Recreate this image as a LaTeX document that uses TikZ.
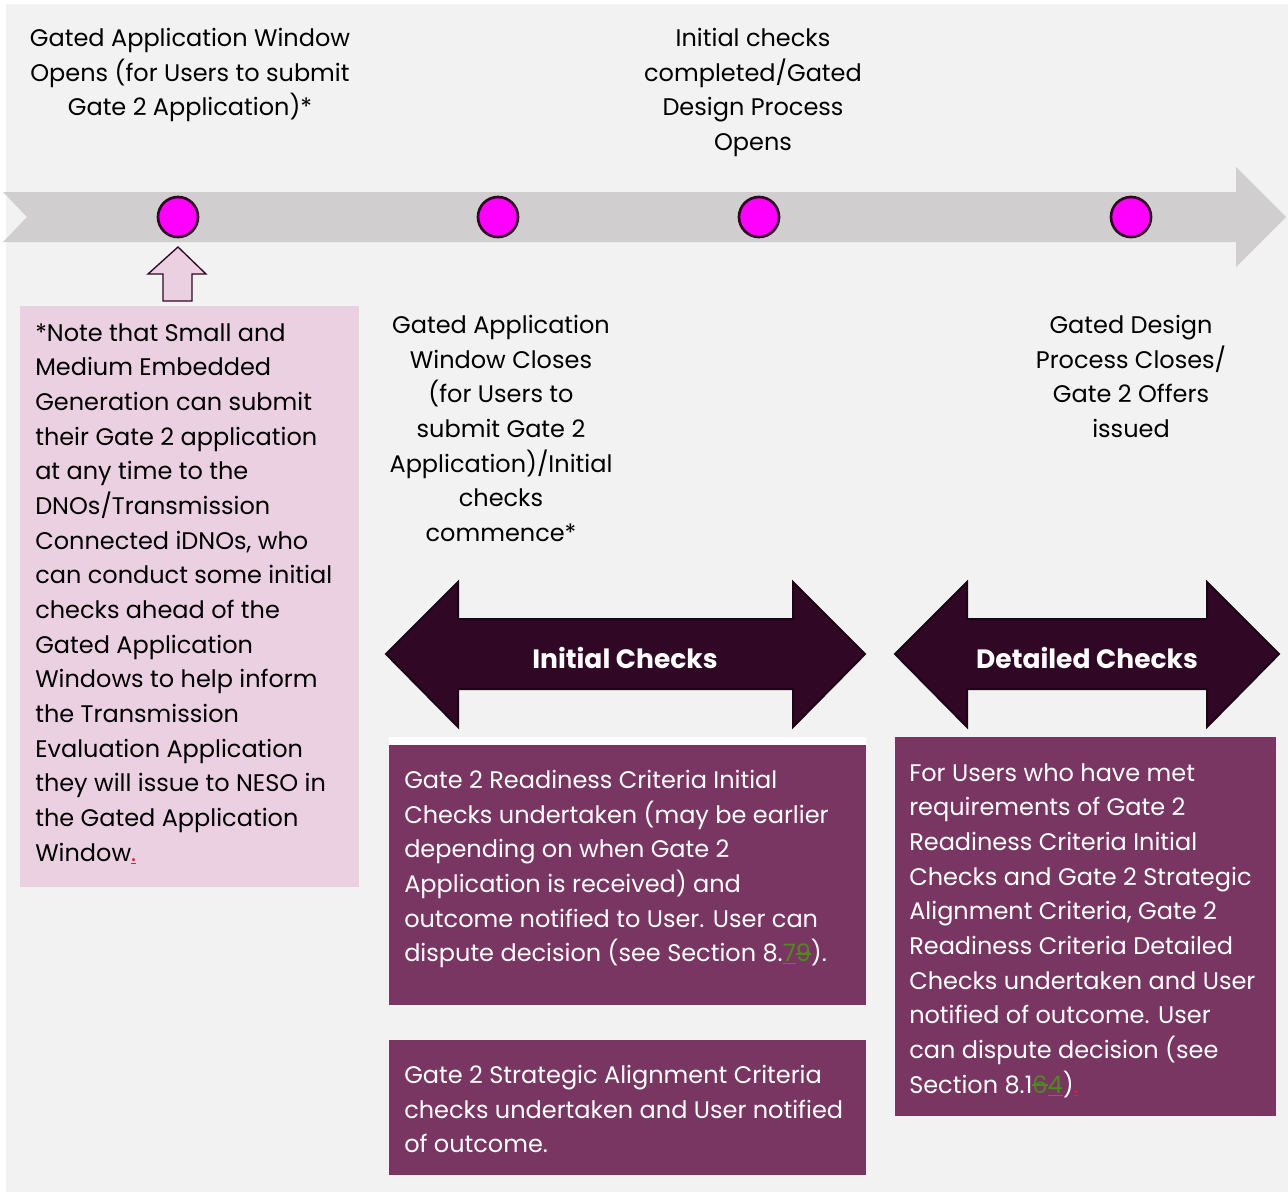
\documentclass[tikz,border=0pt]{standalone}
\usepackage{fontspec}
\setmainfont{Poppins}
\definecolor{bg}{HTML}{F2F2F2}
\definecolor{tlgrey}{HTML}{D0CECE}
\definecolor{mag}{HTML}{FF00FF}
\definecolor{darkplum}{HTML}{300725}
\definecolor{darkline}{HTML}{1C0315}
\definecolor{pinkbox}{HTML}{EBD0E2}
\definecolor{plumbox}{HTML}{7A3662}
\definecolor{trk}{HTML}{4E8A1E}
\definecolor{redmark}{HTML}{E0202A}
\newcommand\txtsize{\fontsize{18pt}{26pt}\selectfont}
\newsavebox\trkbox
\newcommand\trkins[1]{\underline{#1}}
\newcommand\trkdel[1]{\sbox\trkbox{#1}\rlap{\rule[0.3em]{\wd\trkbox}{0.07em}}\usebox\trkbox}
\begin{document}
\begin{tikzpicture}[x=0.75pt,y=-0.75pt,
  milestone/.style={circle,fill=mag,draw=darkplum,line width=2pt,minimum size=30pt,inner sep=0pt},
  lbl/.style={inner sep=0pt,font=\txtsize,text=black},
  boxtxt/.style={inner sep=0pt,font=\txtsize,text=white,align=left,anchor=north west},
  bigarrow/.style={fill=darkplum,draw=darkline,line width=1.5pt,line join=miter},
  arrowlbl/.style={inner sep=0pt,font=\fontsize{19.9pt}{22pt}\selectfont\bfseries,text=white}]
\useasboundingbox (0,0) rectangle (1288,1192);
\fill[bg] (6,4) rectangle (1288,1192);
% timeline
\fill[tlgrey] (3,192) -- (1236,192) -- (1236,167) -- (1286,217) -- (1236,267) -- (1236,242) -- (3,242) -- (27,217) -- cycle;
\node[milestone] (m1) at (178,217) {};
\node[milestone] (m2) at (498,217) {};
\node[milestone] (m3) at (759,217) {};
\node[milestone] (m4) at (1131,217) {};
% top labels
\node[lbl,align=center,anchor=north] (t1) at (190,28) {Gated Application Window\\Opens (for Users to submit\\Gate 2 Application)*};
\node[lbl,align=center,anchor=north] (t3) at (753,28) {Initial checks\\completed/Gated\\Design Process\\Opens};
\node[lbl,align=center,anchor=north] (t2) at (501,315) {Gated Application\\Window Closes\\(for Users to\\submit Gate 2\\Application)/Initial\\checks\\commence*};
\node[lbl,align=center,anchor=north] (t4) at (1131,315) {Gated Design\\Process Closes/\\Gate 2 Offers\\issued};
% up arrow
\draw[fill=pinkbox,draw=darkplum,line width=1pt] (178,247) -- (206,274) -- (192,274) -- (192,301) -- (163,301) -- (163,274) -- (148,274) -- cycle;
% note box
\fill[pinkbox] (20,306) rectangle (359,887);
\node[lbl,align=left,anchor=north west] (note) at (35,323) {*Note that Small and\\Medium Embedded\\Generation can submit\\their Gate 2 application\\at any time to the\\DNOs/Transmission\\Connected iDNOs, who\\can conduct some initial\\checks ahead of the\\Gated Application\\Windows to help inform\\the Transmission\\Evaluation Application\\they will issue to NESO in\\the Gated Application\\Window{\color{redmark}\trkins{.}}};
% double arrows
\draw[bigarrow] (386,654) -- (458,582) -- (458,619) -- (793,619) -- (793,582) -- (865,654) -- (793,727) -- (793,689) -- (458,689) -- (458,727) -- cycle;
\node[arrowlbl] (ic) at (625,658) {Initial Checks};
\draw[bigarrow] (895,654) -- (967,582) -- (967,619) -- (1207,619) -- (1207,582) -- (1279,654) -- (1207,727) -- (1207,689) -- (967,689) -- (967,727) -- cycle;
\node[arrowlbl] (dc) at (1087,658) {Detailed Checks};
% purple boxes
\fill[white] (389,737) rectangle (866,745);
\fill[plumbox] (389,745) rectangle (866,1005);
\node[boxtxt] (b1) at (404,770) {Gate 2 Readiness Criteria Initial\\Checks undertaken (may be earlier\\depending on when Gate 2\\Application is received) and\\outcome notified to User. User can\\dispute decision (see Section 8.{\color{trk}\trkins{7}\trkdel{9}}).};
\fill[plumbox] (389,1040) rectangle (866,1175);
\node[boxtxt] (b2) at (404,1065) {Gate 2 Strategic Alignment Criteria\\checks undertaken and User notified\\of outcome.};
\fill[plumbox] (895,737) rectangle (1276,1116);
\node[boxtxt] (b3) at (909,763) {For Users who have met\\requirements of Gate 2\\Readiness Criteria Initial\\Checks and Gate 2 Strategic\\Alignment Criteria, Gate 2\\Readiness Criteria Detailed\\Checks undertaken and User\\notified of outcome. User\\can dispute decision (see\\Section 8.1{\color{trk}\trkdel{6}\trkins{4}}){\color{redmark}\trkins{.}}};
\end{tikzpicture}
\end{document}
